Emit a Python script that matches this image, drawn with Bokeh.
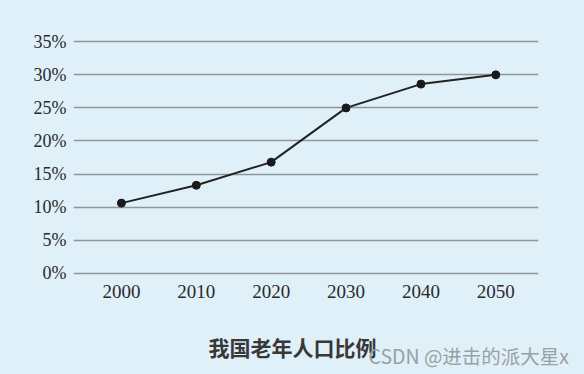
from bokeh.plotting import figure
from bokeh.models import FixedTicker, Label, Range1d
from bokeh.layouts import column
from bokeh.embed import file_html
from bokeh.resources import INLINE

# Data
years = [2000, 2010, 2020, 2030, 2040, 2050]
share = [10.6, 13.3, 16.8, 25.0, 28.6, 30.0]
y_ticks = [0, 5, 10, 15, 20, 25, 30, 35]
y_tick_labels = ["0%", "5%", "10%", "15%", "20%", "25%", "30%", "35%"]
x_tick_labels = ["2000", "2010", "2020", "2030", "2040", "2050"]
title_text = "我国老年人口比例"
watermark_text = "CSDN @进击的派大星x"

BG = "#dff0f9"

p = figure(
    output_backend="svg", toolbar_location=None,
    frame_width=465, frame_height=238,
    min_border_left=73, min_border_right=46,
    min_border_top=38, min_border_bottom=34,
    x_range=Range1d(1993.6, 2055.7), y_range=Range1d(-0.5, 35.5),
)
p.background_fill_color = BG
p.border_fill_color = BG
p.outline_line_color = None
p.frame_align = False

p.line(years, share, line_color="#222222", line_width=2)
p.scatter(years, share, size=8, fill_color="#1a1a1a", line_color="#1a1a1a")

p.xaxis.ticker = FixedTicker(ticks=years)
p.xaxis.major_label_overrides = {y: l for y, l in zip(years, x_tick_labels)}
p.yaxis.ticker = FixedTicker(ticks=y_ticks)
p.yaxis.major_label_overrides = {t: l for t, l in zip(y_ticks, y_tick_labels)}

for ax in (p.xaxis, p.yaxis):
    ax.axis_line_color = None
    ax.major_tick_line_color = None
    ax.minor_tick_line_color = None
    ax.major_tick_out = 0
    ax.major_tick_in = 0
    ax.minor_tick_out = 0
    ax.major_label_text_font = "Liberation Serif"
    ax.major_label_text_color = "#2a2a2a"
p.xaxis.major_label_text_font_size = "19px"
p.yaxis.major_label_text_font_size = "18px"
p.xaxis.major_label_standoff = 8
p.yaxis.major_label_standoff = 7

p.xgrid.grid_line_color = None
p.ygrid.grid_line_color = "#8e969c"
p.ygrid.grid_line_width = 1.5

# Caption strip below the chart (its own frame, not aligned to the chart's)
cap = figure(
    output_backend="svg", toolbar_location=None,
    width=584, height=64, min_border=0,
    x_range=Range1d(0, 584), y_range=Range1d(0, 64),
)
cap.frame_align = False
cap.axis.visible = False
cap.grid.visible = False
cap.outline_line_color = None
cap.background_fill_color = BG
cap.border_fill_color = BG
cap.add_layout(Label(x=208, y=28, text=title_text, text_align="left",
                     text_baseline="middle", text_font="Noto Sans CJK SC",
                     text_font_size="21px", text_font_style="bold",
                     text_color="#383838"))
cap.add_layout(Label(x=368, y=19, text=watermark_text, text_align="left",
                     text_baseline="middle", text_font="Noto Sans CJK SC",
                     text_font_size="19.5px", text_color="#9a9fa3"))

layout = column(p, cap, spacing=0)
html = file_html(layout, INLINE)
html = html.replace("<head>", "<head><style>html,body{background:%s;margin:0;padding:0;}</style>" % BG, 1)
open("out.html", "w").write(html)
